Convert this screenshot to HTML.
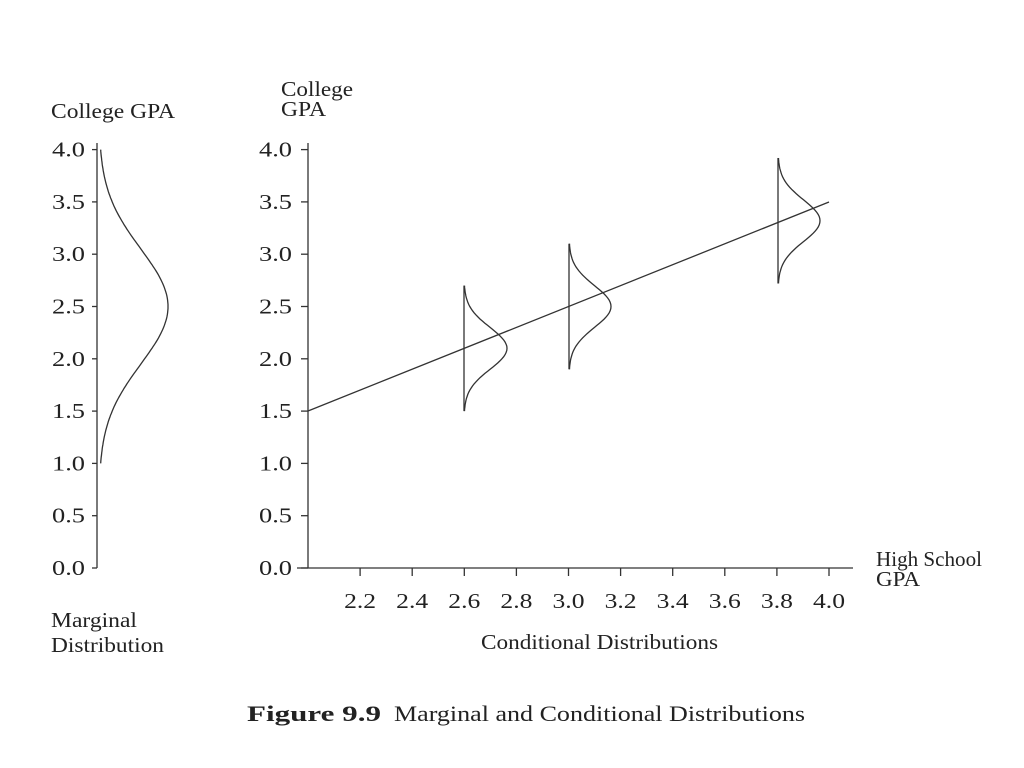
<!DOCTYPE html>
<html><head><meta charset="utf-8"><style>
html,body{margin:0;padding:0;background:#fff;}
svg{display:block;}
text{font-family:"Liberation Serif",serif;fill:#222;}
</style></head><body>
<svg id="s" width="1024" height="768" viewBox="0 0 1024 768" xmlns="http://www.w3.org/2000/svg">
<g stroke="#333" stroke-width="1.3" fill="none" id="g">
<line x1="97" y1="143" x2="97" y2="568"/>
<line x1="308" y1="143" x2="308" y2="568"/>
<line x1="297" y1="568" x2="853" y2="568"/>
<line x1="308" y1="411" x2="829" y2="202"/>
</g>
<g font-size="21" id="t">
<text x="51" y="118" textLength="124" lengthAdjust="spacingAndGlyphs">College GPA</text>
<text x="281" y="96" textLength="72" lengthAdjust="spacingAndGlyphs">College</text>
<text x="281" y="116" textLength="45" lengthAdjust="spacingAndGlyphs">GPA</text>
<text x="51" y="627" textLength="86" lengthAdjust="spacingAndGlyphs">Marginal</text>
<text x="51" y="652" textLength="113" lengthAdjust="spacingAndGlyphs">Distribution</text>
<text x="481" y="649" textLength="237" lengthAdjust="spacingAndGlyphs">Conditional Distributions</text>
<text x="876" y="566" textLength="106" lengthAdjust="spacingAndGlyphs">High School</text>
<text x="876" y="586" textLength="44" lengthAdjust="spacingAndGlyphs">GPA</text>
</g>
<text x="247" y="721" font-size="22" font-weight="bold" textLength="134" lengthAdjust="spacingAndGlyphs">Figure 9.9</text>
<text x="394" y="721" font-size="22" textLength="411" lengthAdjust="spacingAndGlyphs">Marginal and Conditional Distributions</text>
</svg>
<script>
var NS="http://www.w3.org/2000/svg",g=document.getElementById('g'),t=document.getElementById('t');
function Y(v){return 568-v*104.6;}
function el(p,a,txt){var e=document.createElementNS(NS,a.tag);for(var k in a)if(k!='tag')e.setAttribute(k,a[k]);if(txt)e.textContent=txt;p.appendChild(e);}
for(var i=0;i<=8;i++){var v=i*0.5,y=Y(v);
el(g,{tag:'line',x1:92,y1:y,x2:97,y2:y});
el(g,{tag:'line',x1:301,y1:y,x2:308,y2:y});
el(t,{tag:'text',x:85,y:y+7,'text-anchor':'end',textLength:33,lengthAdjust:'spacingAndGlyphs'},v.toFixed(1));
el(t,{tag:'text',x:292,y:y+7,'text-anchor':'end',textLength:33,lengthAdjust:'spacingAndGlyphs'},v.toFixed(1));}
for(var i=1;i<=10;i++){var x=308+i*52.1;
el(g,{tag:'line',x1:x,y1:568,x2:x,y2:576});
el(t,{tag:'text',x:x,y:608,'text-anchor':'middle',textLength:32,lengthAdjust:'spacingAndGlyphs'},(2+i*0.2).toFixed(1));}
function curve(x0,mu,sd,lo,hi,w,vert){var d='';for(var v=lo;v<=hi+1e-9;v+=0.02){var z=(v-mu)/sd;var x=x0+w*Math.exp(-z*z/2);d+=(d?'L':'M')+x.toFixed(1)+' '+Y(v).toFixed(1);}
el(g,{tag:'path',d:d});if(vert)el(g,{tag:'line',x1:x0,y1:Y(lo),x2:x0,y2:Y(hi)});}
curve(99,2.5,0.55,1.0,4.0,69,false);
curve(464,2.1,0.2,1.5,2.7,43,true);
curve(569,2.5,0.2,1.9,3.1,42,true);
curve(778,3.32,0.2,2.72,3.92,42,true);
</script>
</body></html>
